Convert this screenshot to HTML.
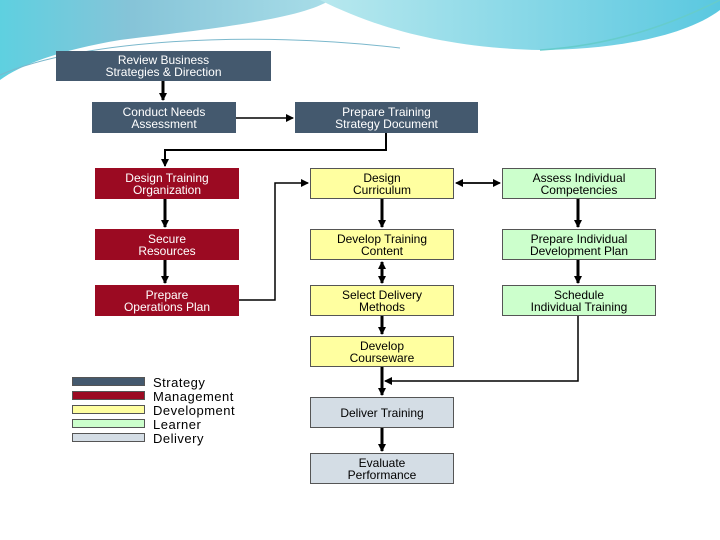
<!DOCTYPE html>
<html><head><style>
body{margin:0;width:720px;height:540px;overflow:hidden;background:#fff;font-family:"Liberation Sans",sans-serif;position:relative}
.b{position:absolute;display:flex;align-items:center;justify-content:center;text-align:center;font-size:12px;line-height:12px;box-sizing:border-box}
.s{background:#44596e;color:#fff}
.m{background:#9b0a22;color:#fff}
.d{background:#ffffa0;color:#000;border:1px solid #555}
.l{background:#ccffcc;color:#000;border:1px solid #555}
.v{background:#d4dde5;color:#000;border:1px solid #555}
.sw{position:absolute;left:72px;width:73px;height:9px;box-sizing:border-box;border:1px solid #555}
.lt{position:absolute;left:153px;font-size:13px;line-height:13px;letter-spacing:0.5px}
svg{position:absolute;left:0;top:0}
</style></head><body>
<svg width="720" height="540">
<defs>
<linearGradient id="g1" x1="0" y1="0" x2="1" y2="0"><stop offset="0" stop-color="#5ed0e0"/><stop offset="0.4" stop-color="#86c4d8"/><stop offset="1" stop-color="#a8dde8"/></linearGradient>
<linearGradient id="g2" x1="0" y1="0" x2="1" y2="0"><stop offset="0" stop-color="#b8e8ee"/><stop offset="1" stop-color="#5ac8e0"/></linearGradient>
<marker id="a" markerWidth="8" markerHeight="8" refX="7" refY="4" orient="auto" markerUnits="userSpaceOnUse"><path d="M0,0 L8,4 L0,8z" fill="#000"/></marker>
</defs>
<path d="M0,0 H330 C300,20 200,30 120,40 C60,50 20,65 0,80 Z" fill="url(#g1)"/>
<path d="M320,0 H720 V10 C680,40 600,50 540,50 C450,48 380,30 320,0 Z" fill="url(#g2)"/>
<path d="M0,75 C80,40 250,30 400,48" stroke="#7bb8cc" stroke-width="1" fill="none"/>
<path d="M540,50 C620,45 680,20 720,0" stroke="#6cc" stroke-width="1.5" fill="none"/>
<g stroke="#000" fill="none">
<path d="M163,81 V100" stroke-width="3" marker-end="url(#a)"/>
<path d="M236,118 H293" stroke-width="1.5" marker-end="url(#a)"/>
<path d="M386,133 V150 H165 V166" stroke-width="2" marker-end="url(#a)"/>
<path d="M165,199 V227" stroke-width="3" marker-end="url(#a)"/>
<path d="M165,260 V283" stroke-width="3" marker-end="url(#a)"/>
<path d="M239,300 H275 V183 H308" stroke-width="1.5" marker-end="url(#a)"/>
<path d="M462,183 H500" stroke-width="1.5" marker-end="url(#a)"/>
<path d="M494,183 H456" stroke-width="1.5" marker-end="url(#a)"/>
<path d="M382,199 V227" stroke-width="3" marker-end="url(#a)"/>
<path d="M382,268 V283" stroke-width="3" marker-end="url(#a)"/>
<path d="M382,276 V262" stroke-width="3" marker-end="url(#a)"/>
<path d="M382,316 V334" stroke-width="3" marker-end="url(#a)"/>
<path d="M382,367 V395" stroke-width="3" marker-end="url(#a)"/>
<path d="M578,316 V381 H385" stroke-width="1.5" marker-end="url(#a)"/>
<path d="M382,428 V451" stroke-width="3" marker-end="url(#a)"/>
<path d="M578,199 V227" stroke-width="3" marker-end="url(#a)"/>
<path d="M578,260 V283" stroke-width="3" marker-end="url(#a)"/>
</g>
</svg>
<div class="b s" style="left:56px;top:51px;width:215px;height:30px">Review Business<br>Strategies &amp; Direction</div>
<div class="b s" style="left:92px;top:102px;width:144px;height:31px">Conduct Needs<br>Assessment</div>
<div class="b s" style="left:295px;top:102px;width:183px;height:31px">Prepare Training<br>Strategy Document</div>
<div class="b m" style="left:95px;top:168px;width:144px;height:31px">Design Training<br>Organization</div>
<div class="b m" style="left:95px;top:229px;width:144px;height:31px">Secure<br>Resources</div>
<div class="b m" style="left:95px;top:285px;width:144px;height:31px">Prepare<br>Operations Plan</div>
<div class="b d" style="left:310px;top:168px;width:144px;height:31px">Design<br>Curriculum</div>
<div class="b d" style="left:310px;top:229px;width:144px;height:31px">Develop Training<br>Content</div>
<div class="b d" style="left:310px;top:285px;width:144px;height:31px">Select Delivery<br>Methods</div>
<div class="b d" style="left:310px;top:336px;width:144px;height:31px">Develop<br>Courseware</div>
<div class="b l" style="left:502px;top:168px;width:154px;height:31px">Assess Individual<br>Competencies</div>
<div class="b l" style="left:502px;top:229px;width:154px;height:31px">Prepare Individual<br>Development Plan</div>
<div class="b l" style="left:502px;top:285px;width:154px;height:31px">Schedule<br>Individual Training</div>
<div class="b v" style="left:310px;top:397px;width:144px;height:31px">Deliver Training</div>
<div class="b v" style="left:310px;top:453px;width:144px;height:31px">Evaluate<br>Performance</div>
<div class="sw" style="top:377px;background:#44596e"></div>
<div class="sw" style="top:391px;background:#9b0a22"></div>
<div class="sw" style="top:405px;background:#ffffa0"></div>
<div class="sw" style="top:419px;background:#ccffcc"></div>
<div class="sw" style="top:433px;background:#d4dde5"></div>
<div class="lt" style="top:376px">Strategy</div>
<div class="lt" style="top:390px">Management</div>
<div class="lt" style="top:404px">Development</div>
<div class="lt" style="top:418px">Learner</div>
<div class="lt" style="top:432px">Delivery</div>
</body></html>
